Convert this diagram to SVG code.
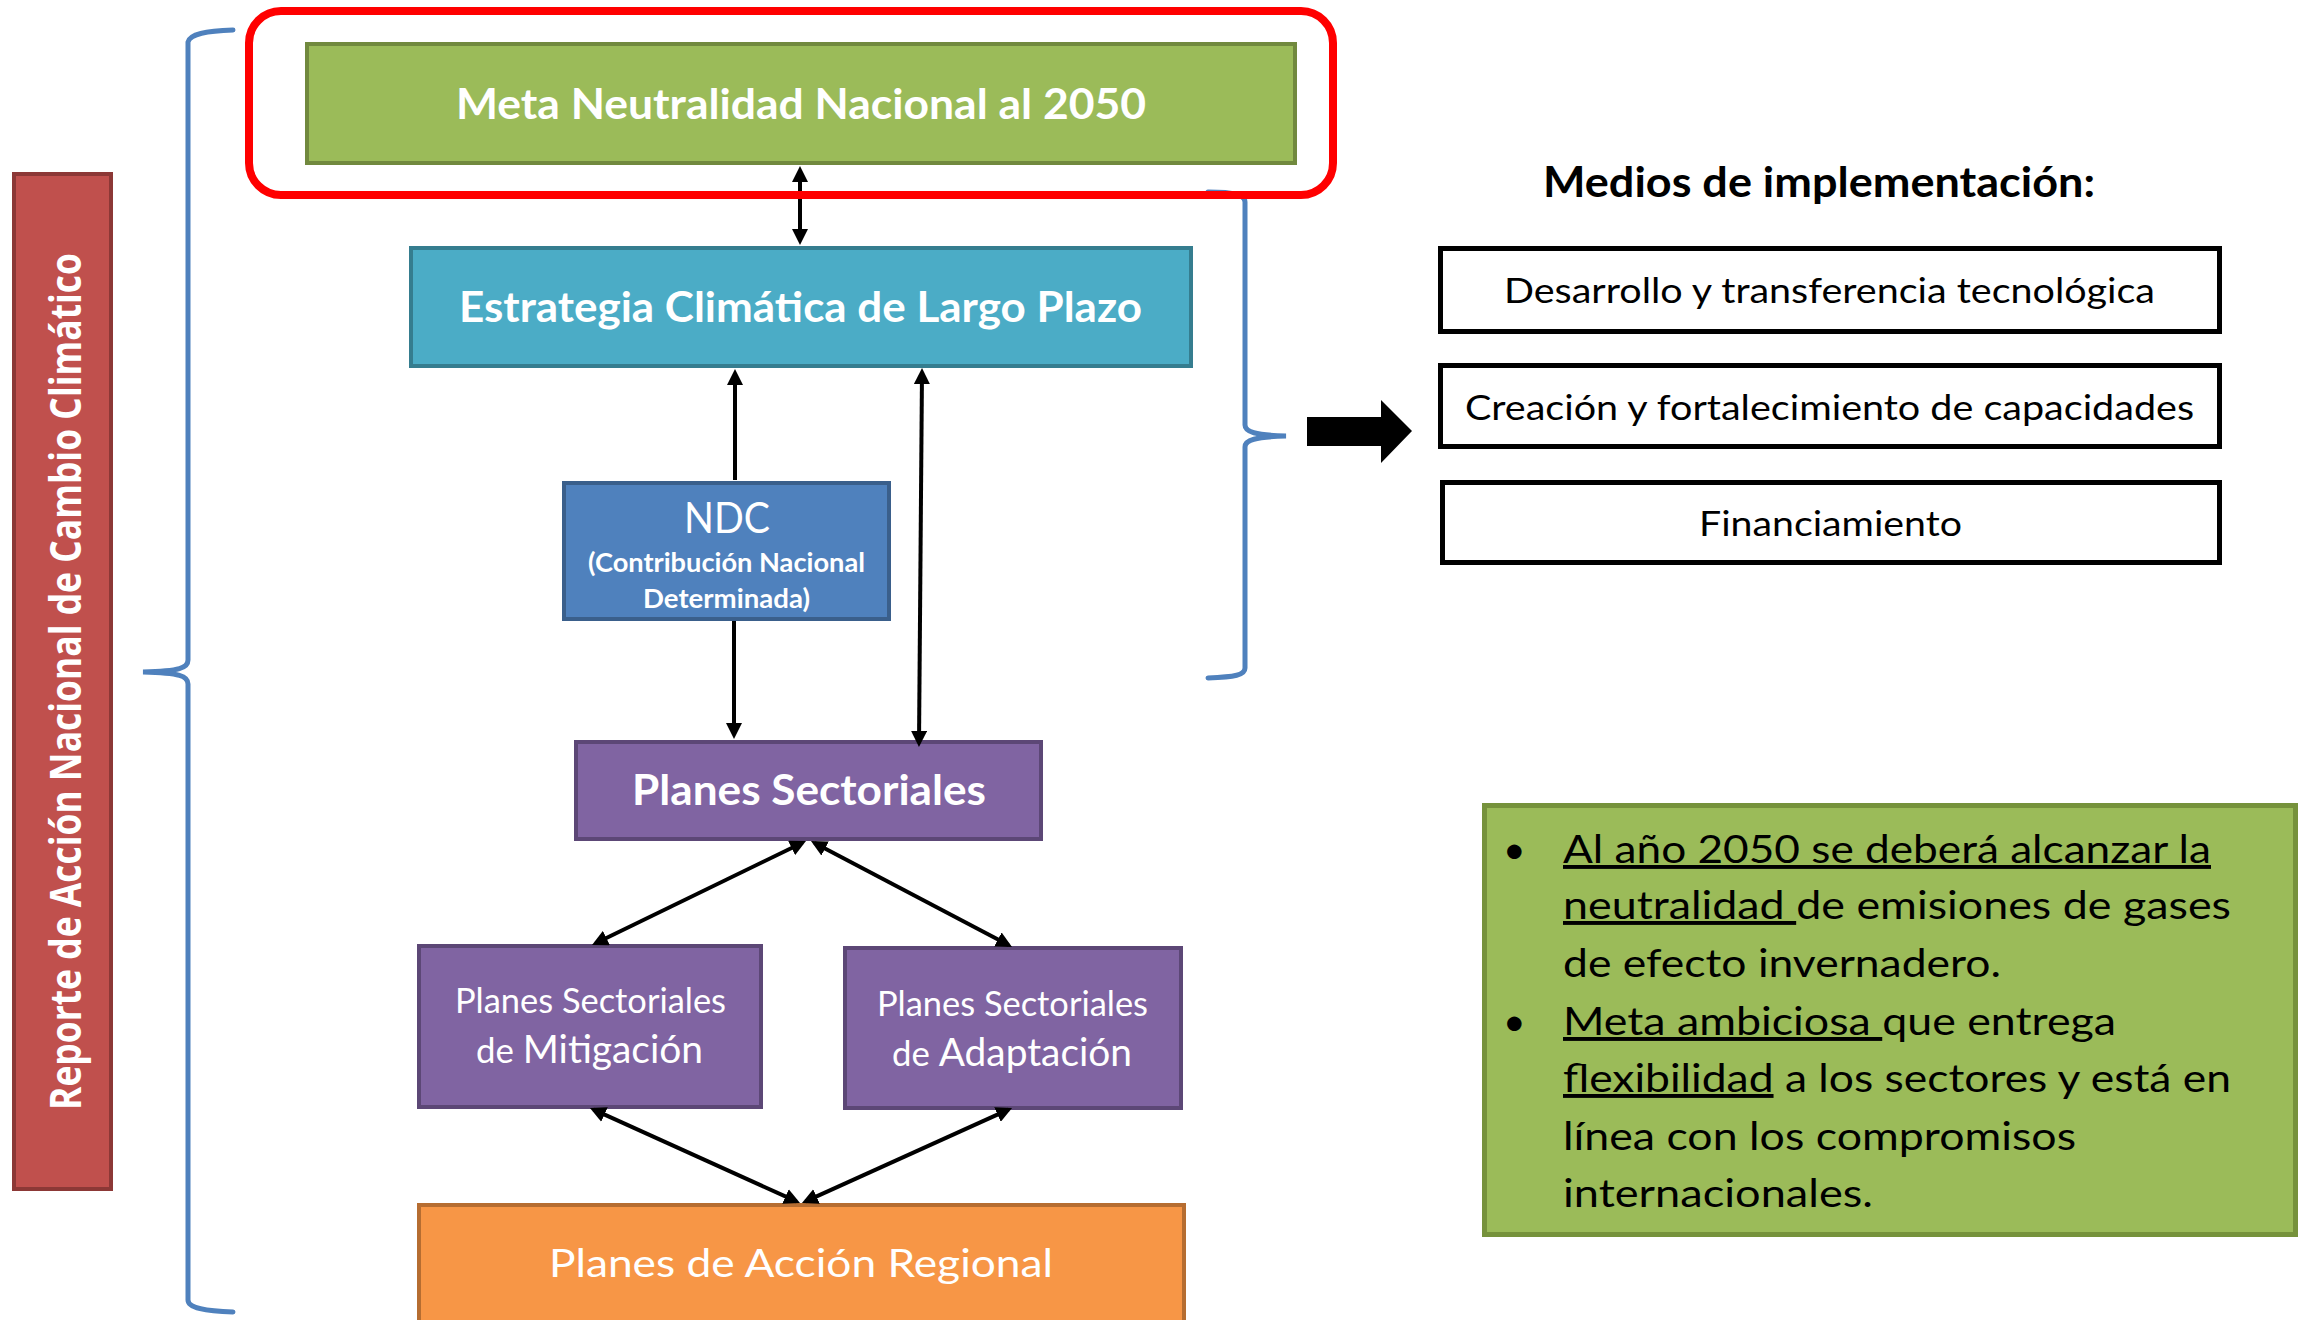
<svg xmlns="http://www.w3.org/2000/svg" width="2305" height="1320" viewBox="0 0 2305 1320">
<defs>
<marker id="ah" viewBox="0 0 16 16" refX="12" refY="8" markerWidth="16" markerHeight="16" markerUnits="userSpaceOnUse" orient="auto-start-reverse"><path d="M0,0 L16,8 L0,16 z" fill="#000"/></marker>
</defs>
<style>
.lbl{font-family:Lato,"Liberation Sans",sans-serif;fill:#fff;text-anchor:middle}
.b{font-weight:700}
.dark{fill:#000}
.conn{stroke:#000;stroke-width:4;fill:none}
.brace{stroke:#4f81bd;stroke-width:5;fill:none;stroke-linecap:round}
.impl{fill:#fff;stroke:#000;stroke-width:5}
.bul{font-family:Lato,"Liberation Sans",sans-serif;fill:#000;font-size:39px}
</style>
<rect width="2305" height="1320" fill="#fff"/>

<g id="braces">
<path class="brace" d="M233,30 C205,31 190,34 188,42 L188,660 C188,668 180,671 143,672 C180,673 188,676 188,684 L188,1300 C188,1308 205,1311 233,1312"/>
<path class="brace" d="M1208,192 C1235,192 1245,195 1245,202 L1245,425 C1245,432 1255,435 1286,436 C1255,437 1245,440 1245,447 L1245,668 C1245,675 1235,677 1208,678"/>
</g>

<g id="reporte">
<rect x="14" y="174" width="97" height="1015" fill="#c0504d" stroke="#8c3836" stroke-width="4"/>
<text transform="translate(81,681.5) rotate(-90)" x="0" y="0" text-anchor="middle" font-family="'Open Sans','DejaVu Sans',sans-serif" font-weight="700" font-size="43" fill="#fff" textLength="857" lengthAdjust="spacingAndGlyphs">Reporte de Acción Nacional de Cambio Climático</text>
</g>

<g id="meta">
<rect x="307" y="44" width="988" height="119" fill="#9bbb59" stroke="#71893e" stroke-width="4"/>
<text class="lbl b" x="801" y="119" font-size="42" textLength="690" lengthAdjust="spacingAndGlyphs">Meta Neutralidad Nacional al 2050</text>
</g>

<g id="estrategia">
<rect x="411" y="248" width="780" height="118" fill="#4bacc6" stroke="#357d8f" stroke-width="4"/>
<text class="lbl b" x="800.5" y="322" font-size="42" textLength="683" lengthAdjust="spacingAndGlyphs">Estrategia Climática de Largo Plazo</text>
</g>

<g id="ndc">
<rect x="564" y="483" width="325" height="136" fill="#4f81bd" stroke="#3a5f8b" stroke-width="4"/>
<text class="lbl" x="727" y="533" font-size="42" textLength="86" lengthAdjust="spacingAndGlyphs">NDC</text>
<text class="lbl b" x="726.5" y="572" font-size="27" textLength="277" lengthAdjust="spacingAndGlyphs">(Contribución Nacional</text>
<text class="lbl b" x="726.5" y="608" font-size="27" textLength="167" lengthAdjust="spacingAndGlyphs">Determinada)</text>
</g>

<g id="planes-sectoriales">
<rect x="576" y="742" width="465" height="97" fill="#8064a2" stroke="#5c4776" stroke-width="4"/>
<text class="lbl b" x="809" y="805" font-size="42" textLength="354" lengthAdjust="spacingAndGlyphs">Planes Sectoriales</text>
</g>

<g id="mitigacion">
<rect x="419" y="946" width="342" height="161" fill="#8064a2" stroke="#5c4776" stroke-width="4"/>
<text class="lbl" x="590.5" y="1013" font-size="34" textLength="271" lengthAdjust="spacingAndGlyphs">Planes Sectoriales</text>
<text class="lbl" x="589.5" y="1063" font-size="34" textLength="227" lengthAdjust="spacingAndGlyphs">de <tspan font-size="38">Mitigación</tspan></text>
</g>

<g id="adaptacion">
<rect x="845" y="948" width="336" height="160" fill="#8064a2" stroke="#5c4776" stroke-width="4"/>
<text class="lbl" x="1012.5" y="1016" font-size="34" textLength="271" lengthAdjust="spacingAndGlyphs">Planes Sectoriales</text>
<text class="lbl" x="1012" y="1066" font-size="34" textLength="240" lengthAdjust="spacingAndGlyphs">de <tspan font-size="38">Adaptación</tspan></text>
</g>

<g id="regional">
<rect x="419" y="1205" width="765" height="130" fill="#f79646" stroke="#b66d31" stroke-width="4"/>
<text class="lbl" x="801" y="1277" font-size="39" textLength="504" lengthAdjust="spacingAndGlyphs">Planes de Acción Regional</text>
</g>

<g id="connectors">
<line class="conn" x1="800" y1="170" x2="800" y2="241" marker-start="url(#ah)" marker-end="url(#ah)"/>
<line class="conn" x1="735" y1="480" x2="735" y2="373" marker-end="url(#ah)"/>
<line class="conn" x1="734" y1="621" x2="734" y2="735" marker-end="url(#ah)"/>
<line class="conn" x1="922" y1="372" x2="919" y2="743" marker-start="url(#ah)" marker-end="url(#ah)"/>
<line class="conn" x1="802.4" y1="842.7" x2="595.6" y2="943.3" marker-start="url(#ah)" marker-end="url(#ah)"/>
<line class="conn" x1="814.5" y1="842.9" x2="1008.5" y2="945.1" marker-start="url(#ah)" marker-end="url(#ah)"/>
<line class="conn" x1="593.6" y1="1109.6" x2="796.4" y2="1201.4" marker-start="url(#ah)" marker-end="url(#ah)"/>
<line class="conn" x1="1008.4" y1="1109.6" x2="805.6" y2="1201.4" marker-start="url(#ah)" marker-end="url(#ah)"/>
</g>

<g id="meta-highlight">
<rect x="249" y="11" width="1084" height="184" rx="32" ry="32" fill="none" stroke="#ff0000" stroke-width="8"/>
</g>

<g id="block-arrow">
<polygon points="1307,417 1381,417 1381,400 1412,431 1381,463 1381,446 1307,446" fill="#000"/>
</g>

<g id="medios">
<text class="lbl b dark" x="1819" y="197" font-size="42" textLength="552" lengthAdjust="spacingAndGlyphs">Medios de implementación:</text>
</g>

<g id="desarrollo">
<rect class="impl" x="1440.5" y="248.5" width="779" height="83"/>
<text class="lbl dark" x="1829.5" y="303" font-size="35" textLength="651" lengthAdjust="spacingAndGlyphs">Desarrollo y transferencia tecnológica</text>
</g>
<g id="creacion">
<rect class="impl" x="1440.5" y="365.5" width="779" height="81"/>
<text class="lbl dark" x="1829.5" y="420" font-size="35" textLength="729" lengthAdjust="spacingAndGlyphs">Creación y fortalecimiento de capacidades</text>
</g>
<g id="financiamiento">
<rect class="impl" x="1442.5" y="482.5" width="777" height="80"/>
<text class="lbl dark" x="1830.5" y="536" font-size="35" textLength="263" lengthAdjust="spacingAndGlyphs">Financiamiento</text>
</g>

<g id="nota">
<rect x="1484.5" y="805.5" width="811" height="429" fill="#9bbb59" stroke="#76923c" stroke-width="5"/>
<text class="bul" x="1503" y="863">•</text>
<text class="bul" x="1503" y="1035">•</text>
<text class="bul" xml:space="preserve" x="1563" y="863" textLength="648" lengthAdjust="spacingAndGlyphs"><tspan text-decoration="underline">Al año 2050 se deberá alcanzar la</tspan></text>
<text class="bul" xml:space="preserve" x="1563" y="919" textLength="668" lengthAdjust="spacingAndGlyphs"><tspan text-decoration="underline">neutralidad </tspan>de emisiones de gases</text>
<text class="bul" x="1563" y="977" textLength="438" lengthAdjust="spacingAndGlyphs">de efecto invernadero.</text>
<text class="bul" xml:space="preserve" x="1563" y="1035" textLength="553" lengthAdjust="spacingAndGlyphs"><tspan text-decoration="underline">Meta ambiciosa </tspan>que entrega</text>
<text class="bul" xml:space="preserve" x="1563" y="1092" textLength="668" lengthAdjust="spacingAndGlyphs"><tspan text-decoration="underline">flexibilidad</tspan> a los sectores y está en</text>
<text class="bul" x="1563" y="1150" textLength="513" lengthAdjust="spacingAndGlyphs">línea con los compromisos</text>
<text class="bul" x="1563" y="1207" textLength="310" lengthAdjust="spacingAndGlyphs">internacionales.</text>
</g>
</svg>
